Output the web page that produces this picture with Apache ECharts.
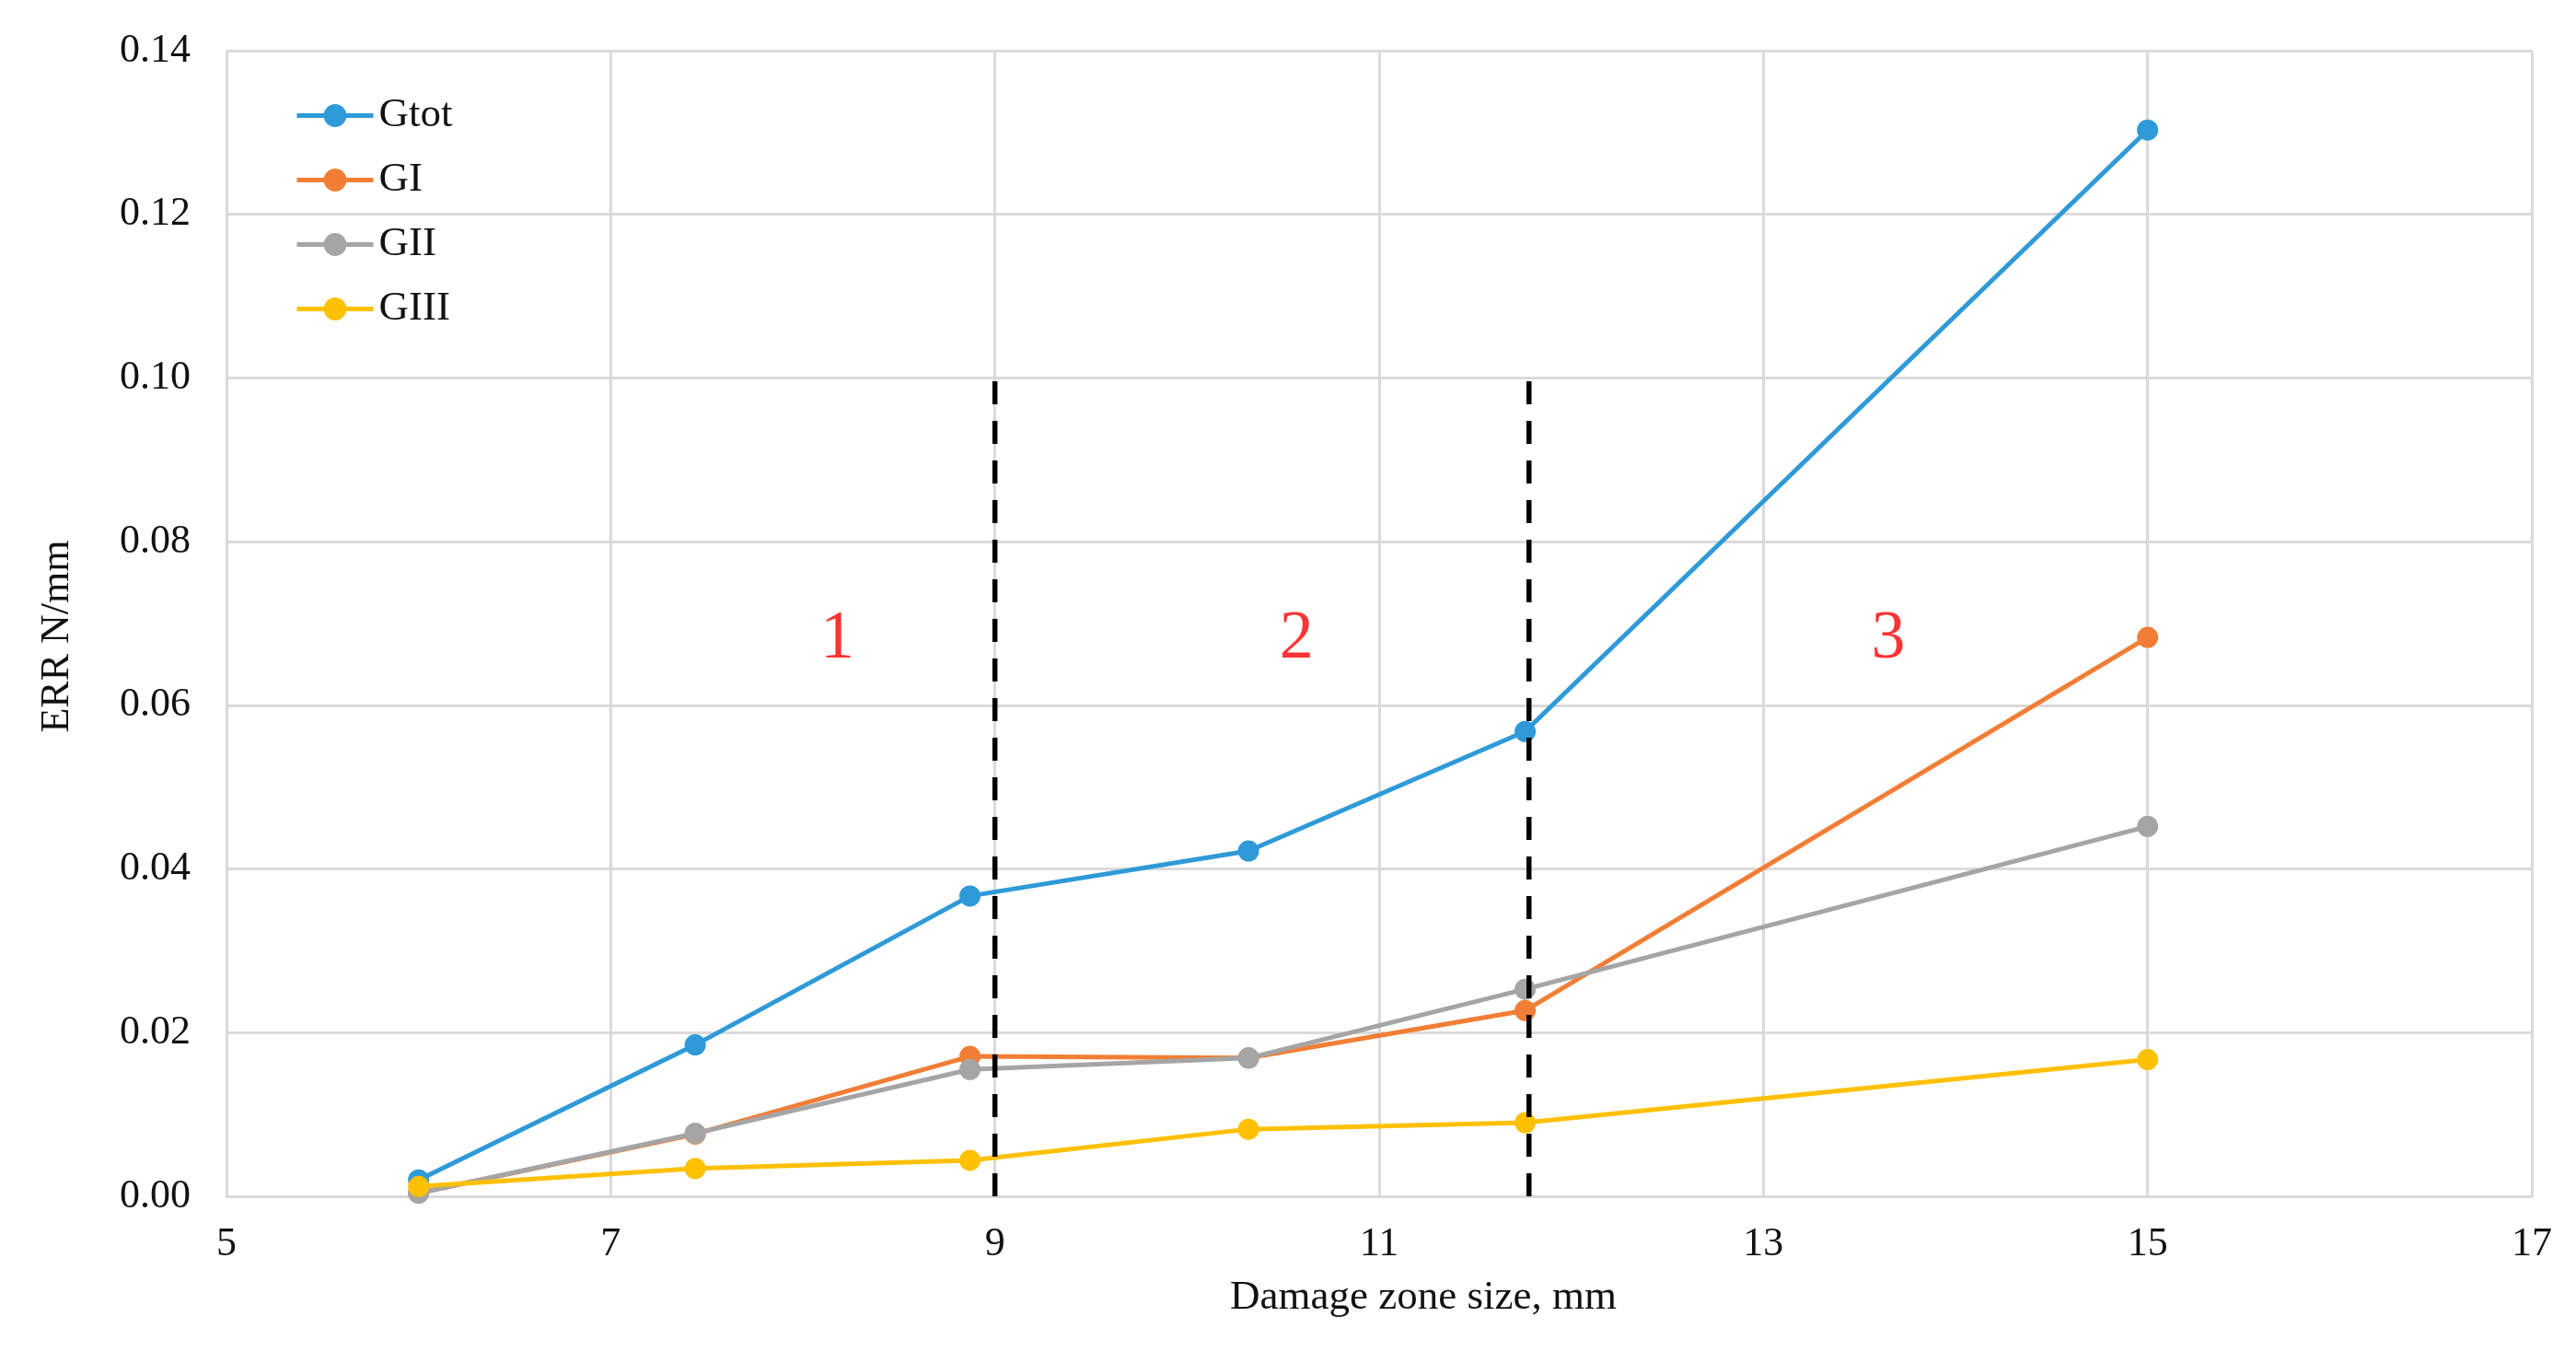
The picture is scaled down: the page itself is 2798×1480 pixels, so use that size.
<!DOCTYPE html>
<html><head><meta charset="utf-8">
<script src="https://cdn.jsdelivr.net/npm/echarts@6/dist/echarts.min.js"></script>
<style>html,body{margin:0;padding:0;background:#fff}#c{width:2798px;height:1480px}</style>
</head><body><div id="c"></div>
<script>
// ---- data ----
const damageSize = [6.0, 7.44, 8.87, 10.32, 11.76, 15.0];
const gtot = [0.0020, 0.0185, 0.0367, 0.0422, 0.0568, 0.1303];
const gI   = [0.0004, 0.0076, 0.0171, 0.0169, 0.0227, 0.0683];
const gII  = [0.0004, 0.0077, 0.0155, 0.0169, 0.0253, 0.0452];
const gIII = [0.0012, 0.0034, 0.0044, 0.0082, 0.0090, 0.0167];
const seriesNames = ['Gtot', 'GI', 'GII', 'GIII'];
const dividerX = [9.0, 11.78];
const dividerTop = 0.10;
const zoneNames = ['1', '2', '3'];
const zoneX = [8.18, 10.57, 13.65];
const zoneY = 0.0680;
const xAxisTitle = 'Damage zone size, mm';
const yAxisTitle = 'ERR N/mm';

// ---- styles ----
const colors = ['#2F9AD8', '#F27E36', '#A5A5A5', '#FFC000'];
const FONT = '"Liberation Serif", "DejaVu Serif", serif';
const gridColor = '#DADADA';
const textColor = '#111';

const valueSets = [gtot, gI, gII, gIII];
const series = valueSets.map((vals, i) => ({
  name: seriesNames[i],
  type: 'line',
  data: damageSize.map((x, j) => [x, vals[j]]),
  symbol: 'circle',
  symbolSize: 23,
  lineStyle: { width: 5, color: colors[i] },
  itemStyle: { color: colors[i] },
  z: 3 + i,
  animation: false
}));

dividerX.forEach(x => {
  series.push({
    type: 'line',
    data: [[x, 0], [x, dividerTop]],
    symbol: 'none',
    lineStyle: { color: '#000', width: 5.5, type: [25, 18] },
    z: 10,
    silent: true,
    animation: false
  });
});

series.push({
  type: 'scatter',
  data: zoneNames.map((n, i) => ({ value: [zoneX[i], zoneY], name: n })),
  symbolSize: 0,
  label: {
    show: true,
    position: 'inside',
    formatter: p => p.name,
    color: '#FF0000',
    fontFamily: FONT,
    fontSize: 74
  },
  z: 11,
  silent: true,
  animation: false
});

const chart = echarts.init(document.getElementById('c'));
chart.setOption({
  backgroundColor: '#fff',
  animation: false,
  color: colors,
  grid: { left: 246, right: 48, top: 55, bottom: 181, containLabel: false },
  legend: {
    data: seriesNames,
    orient: 'vertical',
    left: 320,
    top: 103,
    padding: 0,
    itemWidth: 83,
    itemHeight: 31,
    itemGap: 25,
    lineStyle: { width: 5 },
    textStyle: { fontFamily: FONT, fontSize: 45, color: textColor, lineHeight: 44, padding: [0, 0, 0, 1] }
  },
  xAxis: {
    type: 'value',
    min: 5, max: 17, interval: 2,
    name: xAxisTitle,
    nameLocation: 'middle',
    nameGap: 88,
    nameTextStyle: { fontFamily: FONT, fontSize: 45, color: textColor, padding: [0, 0, 0, 96] },
    axisLine: { show: true, lineStyle: { color: gridColor, width: 3 } },
    axisTick: { show: false },
    axisLabel: { fontFamily: FONT, fontSize: 44, color: textColor, margin: 30 },
    splitLine: { show: true, lineStyle: { color: gridColor, width: 3 } }
  },
  yAxis: {
    type: 'value',
    min: 0, max: 0.14, interval: 0.02,
    name: yAxisTitle,
    nameLocation: 'middle',
    nameGap: 162,
    nameTextStyle: { fontFamily: FONT, fontSize: 44, color: textColor, padding: [0, 28, 0, 0] },
    axisLine: { show: false },
    axisTick: { show: false },
    axisLabel: { fontFamily: FONT, fontSize: 44, color: textColor, margin: 39, formatter: v => v.toFixed(2) },
    splitLine: { show: true, lineStyle: { color: gridColor, width: 3 } }
  },
  series: series
});
</script>
</body></html>
